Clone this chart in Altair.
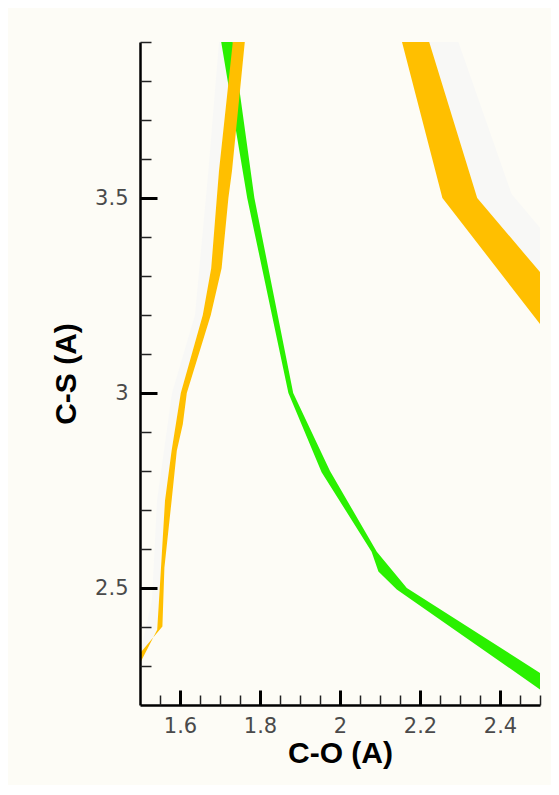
import altair as alt
import pandas as pd

# ---------------- data ----------------
# Axis ticks
X_MAJOR = [1.6, 1.8, 2.0, 2.2, 2.4]
Y_MAJOR = [2.5, 3.0, 3.5]
X_MINOR = [1.55, 1.65, 1.7, 1.75, 1.85, 1.9, 1.95, 2.05, 2.1, 2.15,
           2.25, 2.3, 2.35, 2.45, 2.5]
Y_MINOR = [2.3, 2.4, 2.6, 2.7, 2.8, 2.9, 3.1, 3.2, 3.3, 3.4, 3.6, 3.7, 3.8, 3.9]

# Contour band outlines (polygon vertices, in order around each band)
orange_left_x = [1.762, 1.730, 1.721, 1.704, 1.677, 1.617, 1.607, 1.592, 1.579, 1.561, 1.556, 1.500,
                 1.500, 1.543, 1.5525, 1.5625, 1.579, 1.602, 1.657, 1.678, 1.692, 1.6975, 1.732]
orange_left_y = [3.90, 3.57, 3.50, 3.32, 3.20, 3.00, 2.92, 2.852, 2.724, 2.552, 2.401, 2.333,
                 2.307, 2.393, 2.552, 2.724, 2.852, 3.00, 3.20, 3.32, 3.50, 3.57, 3.90]

orange_right_x = [2.155, 2.223, 2.343, 2.500, 2.500, 2.256]
orange_right_y = [3.90, 3.90, 3.50, 3.31, 3.177, 3.50]

green_x = [1.732, 1.786, 1.883, 1.975, 2.092, 2.167, 2.500,
           2.500, 2.142, 2.096, 2.079, 1.954, 1.871, 1.768, 1.703]
green_y = [3.90, 3.50, 3.00, 2.80, 2.593, 2.50, 2.282,
           2.240, 2.496, 2.542, 2.593, 2.797, 3.00, 3.50, 3.90]

faint_left_x = [1.6975, 1.671, 1.6375, 1.580, 1.5425, 1.530, 1.500,
                1.500, 1.543, 1.5525, 1.5625, 1.579, 1.602, 1.657, 1.678, 1.692, 1.6975, 1.732]
faint_left_y = [3.90, 3.57, 3.20, 3.00, 2.724, 2.47, 2.33,
                2.307, 2.393, 2.552, 2.724, 2.852, 3.00, 3.20, 3.32, 3.50, 3.57, 3.90]

faint_right_x = [2.223, 2.296, 2.429, 2.500, 2.500, 2.343]
faint_right_y = [3.90, 3.90, 3.51, 3.424, 3.31, 3.50]


def poly(name, xs, ys):
    return pd.DataFrame({"band": name, "i": list(range(len(xs))), "x": xs, "y": ys})


faint_df = pd.concat([poly("faint_left", faint_left_x, faint_left_y),
                      poly("faint_right", faint_right_x, faint_right_y)])
green_df = poly("green", green_x, green_y)
orange_df = pd.concat([poly("orange_left", orange_left_x, orange_left_y),
                       poly("orange_right", orange_right_x, orange_right_y)])

# ---------------- styling ----------------
W, H = 400, 663
BG = "#fdfcf6"
LABEL_FONT = "DejaVu Sans"
TITLE_FONT = "Liberation Sans"

xs = alt.Scale(domain=[1.5, 2.5], nice=False, zero=False)
ys = alt.Scale(domain=[2.2, 3.9], nice=False, zero=False)

# main axes: domain lines, labels, titles
x_main = alt.Axis(orient="bottom", values=X_MAJOR, ticks=False, tickSize=0, grid=False,
                  format="~g",
                  labelPadding=10, labelFont=LABEL_FONT, labelFontSize=21, labelColor="#4a4a4a",
                  labelOverlap=False, labelFlush=False,
                  domainColor="black", domainWidth=2.5,
                  title="C-O (A)", titleFont=TITLE_FONT, titleFontSize=30,
                  titleFontWeight="bold", titleColor="black", titlePadding=2, zindex=1)
y_main = alt.Axis(orient="left", values=Y_MAJOR, ticks=False, tickSize=0, grid=False,
                  format="~g",
                  labelPadding=12, labelFont=LABEL_FONT, labelFontSize=21, labelColor="#4a4a4a",
                  labelOverlap=False, labelFlush=False,
                  domainColor="black", domainWidth=2.5,
                  title="C-S (A)", titleFont=TITLE_FONT, titleFontSize=30,
                  titleFontWeight="bold", titleColor="black", titlePadding=13, zindex=1)

# inward-pointing major ticks (opposite-side axes shifted onto the frame)
x_major = alt.Axis(orient="top", offset=-H, values=X_MAJOR, labels=False, domain=False,
                   tickSize=15, tickWidth=3, tickColor="black", grid=False, title="", zindex=1)
y_major = alt.Axis(orient="right", offset=-W, values=Y_MAJOR, labels=False, domain=False,
                   tickSize=17, tickWidth=3, tickColor="black", grid=False, title="", zindex=1)

# inward-pointing minor ticks
x_minor = alt.Axis(orient="top", offset=-H, values=X_MINOR, labels=False, domain=False,
                   tickSize=10, tickWidth=1.5, tickColor="#222222", grid=False, title="", zindex=1)
y_minor = alt.Axis(orient="right", offset=-W, values=Y_MINOR, labels=False, domain=False,
                   tickSize=11, tickWidth=1.5, tickColor="#222222", grid=False, title="", zindex=1)

faint = alt.Chart(faint_df).mark_line(filled=True, color="#f8f8f6", clip=True).encode(
    x=alt.X("x:Q", scale=xs, axis=x_main),
    y=alt.Y("y:Q", scale=ys, axis=y_main),
    order="i:Q",
    detail="band:N",
)

green = alt.Chart(green_df).mark_line(filled=True, color="#2af000", clip=True).encode(
    x=alt.X("x:Q", scale=xs, axis=x_major),
    y=alt.Y("y:Q", scale=ys, axis=y_major),
    order="i:Q",
    detail="band:N",
)

orange = alt.Chart(orange_df).mark_line(filled=True, color="#ffbf00", clip=True).encode(
    x=alt.X("x:Q", scale=xs, axis=x_minor),
    y=alt.Y("y:Q", scale=ys, axis=y_minor),
    order="i:Q",
    detail="band:N",
)

chart = alt.layer(faint, green, orange).resolve_axis(
    x="independent", y="independent"
).properties(
    width=W,
    height=H,
    background=BG,
    autosize=alt.AutoSizeParams(type="none"),
    padding={"left": 132, "top": 34, "right": 11, "bottom": 80},
).configure_view(strokeWidth=0, fill=BG)

chart.save("out.html", embed_options={"renderer": "svg", "actions": False})
